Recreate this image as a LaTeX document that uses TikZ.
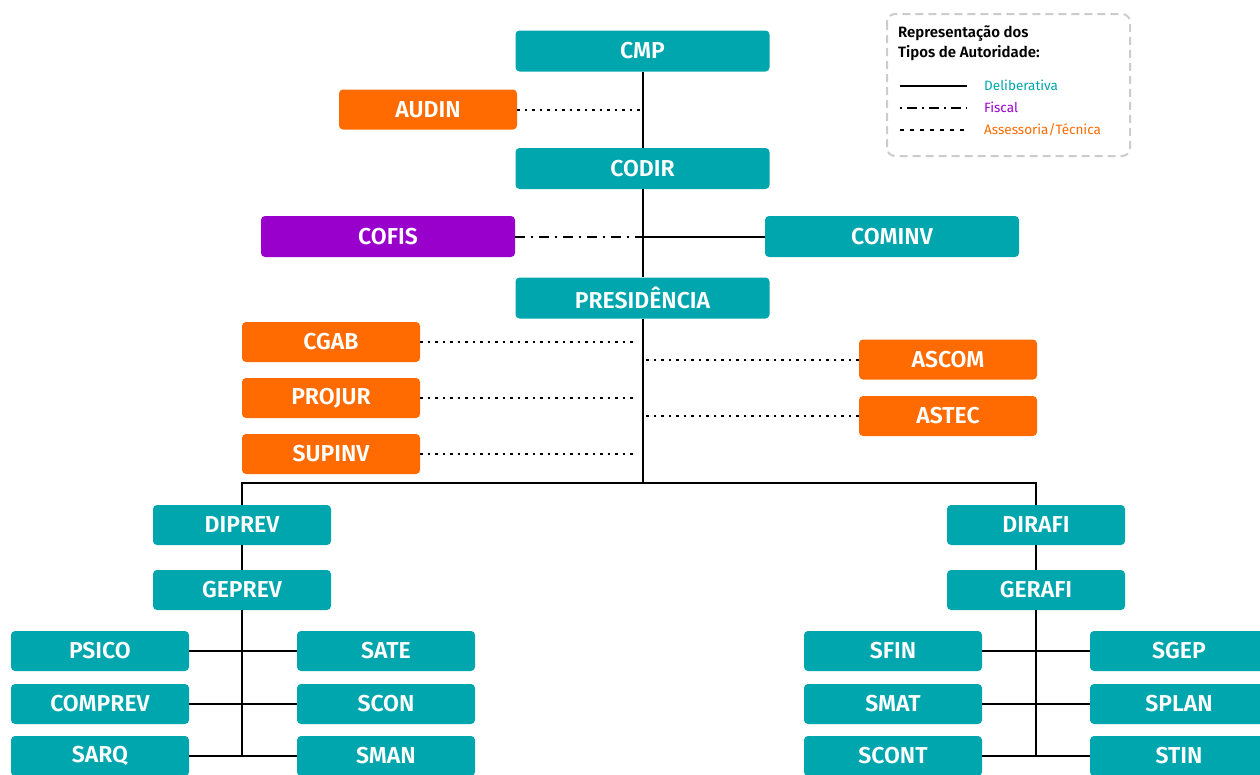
\documentclass[tikz,border=0pt]{standalone}
\usepackage{fontspec}
\setmainfont{Fira Sans}[BoldFont={Fira Sans SemiBold}]
\definecolor{cmpteal}{HTML}{00A6AE}
\definecolor{assorange}{HTML}{FF6B00}
\definecolor{fiscpurple}{HTML}{9900CC}
\definecolor{leggray}{HTML}{CCCCCC}
\tikzset{
	orgbox/.style={draw=none, fill=cmpteal, rounded corners=4pt, inner sep=0pt,
		minimum width=178pt, minimum height=40pt, text=white,
		font=\fontsize{23}{25}\selectfont\bfseries},
	widebox/.style={orgbox, minimum width=254pt, minimum height=41pt},
	assbox/.style={orgbox, fill=assorange},
	fiscbox/.style={widebox, fill=fiscpurple},
	delib/.style={line width=2pt},
	fiscal/.style={line width=2pt, dash pattern=on 10pt off 6pt on 2pt off 6pt},
	assess/.style={line width=2pt, dash pattern=on 2.5pt off 5pt},
	legtext/.style={anchor=base west, inner sep=0pt, font=\fontsize{13.5}{15}\selectfont}
}
\begin{document}
\begin{tikzpicture}[x=1pt, y=-1pt]
	\useasboundingbox (0,0) rectangle (1260,774);
	\clip (0,0) rectangle (1260,774);

	% Topo
	\node[widebox] (cmp) at (642.5,51) {CMP};
	\node[assbox] (audin) at (428,109.5) {AUDIN};
	\node[widebox] (codir) at (642.5,168.5) {CODIR};
	\node[fiscbox] (cofis) at (388,236.5) {COFIS};
	\node[widebox] (cominv) at (892,236.5) {COMINV};
	\node[widebox] (pres) at (642.5,298) {PRESIDÊNCIA};

	% Assessorias
	\node[assbox] (cgab) at (331,342) {CGAB};
	\node[assbox] (projur) at (331,398) {PROJUR};
	\node[assbox] (supinv) at (331,454) {SUPINV};
	\node[assbox] (ascom) at (948,359.5) {ASCOM};
	\node[assbox] (astec) at (948,416) {ASTEC};

	% Diretorias e gerencias
	\node[orgbox] (diprev) at (242,525) {DIPREV};
	\node[orgbox] (geprev) at (242,590) {GEPREV};
	\node[orgbox] (dirafi) at (1036,525) {DIRAFI};
	\node[orgbox] (gerafi) at (1036,590) {GERAFI};

	% Setores
	\foreach \nome/\x/\y in {PSICO/100/651, COMPREV/100/704, SARQ/100/756,
		SATE/386/651, SCON/386/704, SMAN/386/756,
		SFIN/893/651, SMAT/893/704, SCONT/893/756,
		SGEP/1179/651, SPLAN/1179/704, STIN/1179/756}
		\node[orgbox] (\nome) at (\x,\y) {\nome};

	% Linhas deliberativas
	\coordinate (bus) at (pres.south |- 0,483);
	\draw[delib] (cmp.south) -- (codir.north);
	\draw[delib] (codir.south) -- (pres.north);
	\draw[delib] (pres.south) -- (bus);
	\draw[delib] (diprev.north) |- (bus) -| (dirafi.north);
	\draw[delib] (diprev) -- (geprev);
	\draw[delib] (dirafi) -- (gerafi);
	\draw[delib] (geprev.south) -- (geprev.south |- SARQ.east);
	\draw[delib] (gerafi.south) -- (gerafi.south |- SCONT.east);
	\draw[delib] (PSICO.east) -- (SATE.west);
	\draw[delib] (COMPREV.east) -- (SCON.west);
	\draw[delib] (SARQ.east) -- (SMAN.west);
	\draw[delib] (SFIN.east) -- (SGEP.west);
	\draw[delib] (SMAT.east) -- (SPLAN.west);
	\draw[delib] (SCONT.east) -- (STIN.west);
	\draw[delib] (cominv.west) -- (cominv.west -| bus);

	% Fiscal
	\draw[fiscal] (cofis.east) -- (cofis.east -| bus);

	% Assessoria
	\draw[assess] (audin.east) -- (audin.east -| bus);
	\draw[assess] (cgab.east) -- ([xshift=-5pt]cgab.east -| bus);
	\draw[assess] (projur.east) -- ([xshift=-5pt]projur.east -| bus);
	\draw[assess] (supinv.east) -- ([xshift=-5pt]supinv.east -| bus);
	\draw[assess] (ascom.west) -- ([xshift=2pt]ascom.west -| bus);
	\draw[assess] (astec.west) -- ([xshift=2pt]astec.west -| bus);

	% Legenda
	\draw[leggray, line width=2pt, dash pattern=on 8pt off 5pt, rounded corners=8pt]
		(887,14) rectangle (1130,156);
	\node[legtext, font=\fontsize{15}{16}\selectfont\bfseries] (legtit) at (898,37.5)
		{Representação dos};
	\node[legtext, font=\fontsize{15}{16}\selectfont\bfseries] (legtit2) at (898,57)
		{Tipos de Autoridade:};
	\coordinate (ld1) at (900,86);
	\coordinate (ld2) at (967,86);
	\coordinate (lf1) at (900,108);
	\coordinate (lf2) at (967,108);
	\coordinate (la1) at (900,129.5);
	\coordinate (la2) at (967,129.5);
	\draw[delib] (ld1) -- (ld2);
	\draw[fiscal, dash pattern=on 2pt off 5pt on 10pt off 5pt] (lf1) -- (lf2);
	\draw[assess, dash pattern=on 4pt off 6pt] (la1) -- (la2);
	\node[legtext, text=cmpteal] (ldelib) at (984,90.5) {Deliberativa};
	\node[legtext, text=fiscpurple] (lfisc) at (984,112.5) {Fiscal};
	\node[legtext, text=assorange] (lasses) at (984,134) {Assessoria/Técnica};
\end{tikzpicture}
\end{document}
